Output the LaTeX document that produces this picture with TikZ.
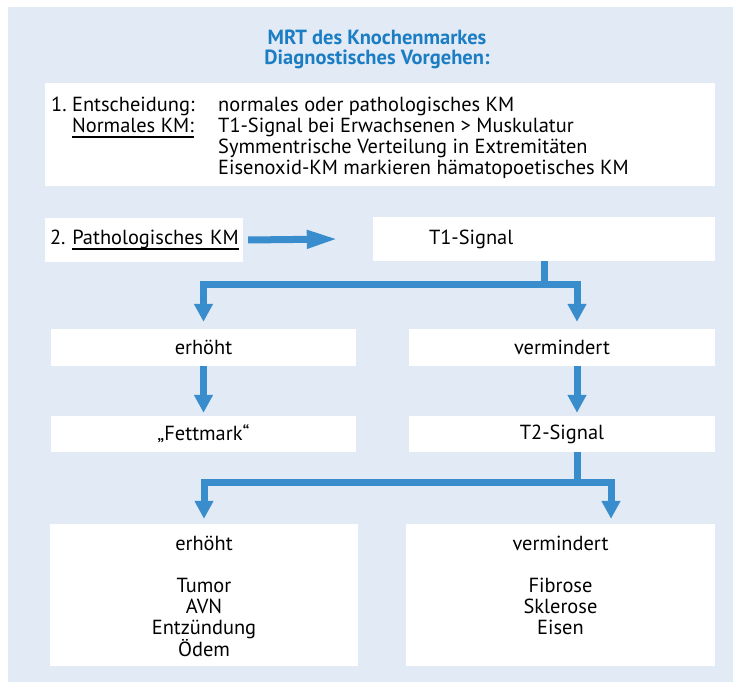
\documentclass[tikz,border=0pt]{standalone}
\usepackage{fontspec}
\setmainfont{PT Sans}
\usetikzlibrary{arrows.meta}
\definecolor{kmback}{HTML}{E2EAF5}
\definecolor{kmblue}{HTML}{3A8DCD}
\definecolor{kmtitle}{HTML}{1B7DC4}
\tikzset{
  kmbox/.style={fill=white, inner sep=0pt, minimum height=37pt},
  kmline/.style={draw=kmblue, line width=7pt},
  kmflow/.style={kmline, -{Triangle[width=18pt,length=18pt]}},
  kmlong/.style={kmline, -{Triangle[width=17pt,length=31pt]}}
}
\newcommand{\kmul}[1]{\setbox0\hbox{#1}\rlap{\rule[-6pt]{\wd0}{1.8pt}}\box0}
\frenchspacing

\begin{document}
\begin{tikzpicture}[x=1pt,y=-1pt,every node/.style={font=\fontsize{20.4}{21}\selectfont}]
  \useasboundingbox (0,0) rectangle (740,682);
  \fill[kmback] (8,7) rectangle (733,682);
  \node[font=\fontsize{20.5}{20}\selectfont\bfseries, text=kmtitle, align=center] (titel) at (377,49) {MRT des Knochenmarkes\\Diagnostisches Vorgehen:};
  \node[kmbox, minimum width=670pt, minimum height=103pt] (entsch) at (380,134.5) {};
  \node[anchor=west, inner sep=0pt] (entschtxt) at (51,138.5) {\begin{tabular}{@{}p{167pt}@{}l@{}}
    1. Entscheidung: & normales oder pathologisches KM\\
    \hphantom{1. }\kmul{Normales KM:} & T1-Signal bei Erwachsenen > Muskulatur\\
    & Symmentrische Verteilung in Extremitäten\\
    & Eisenoxid-KM markieren hämatopoetisches KM
  \end{tabular}};
  \node[kmbox, minimum width=198pt, minimum height=44pt, text width=188pt, inner xsep=5pt, align=left] (patho) at (144,240) {\mbox{2. \kmul{Pathologisches KM}}};
  \node[kmbox, minimum width=342pt, minimum height=44pt, text width=230pt, inner xsep=56pt, align=left] (tone) at (544,239) {T1-Signal};
  \node[kmbox, minimum width=305pt] (erh) at (203.5,347.5) {erhöht};
  \node[kmbox, minimum width=306pt] (verm) at (562,347.5) {vermindert};
  \node[kmbox, minimum width=305pt, minimum height=36pt] (fett) at (203.5,434) {„Fettmark“};
  \node[kmbox, minimum width=306pt, minimum height=36pt] (ttwo) at (562,434) {T2-Signal};
  \node[kmbox, minimum width=308pt, minimum height=142pt, align=center] (erhb) at (204,595) {\rule{0pt}{23pt}erhöht\\\strut\\Tumor\\AVN\\Entzündung\\Ödem\strut};
  \node[kmbox, minimum width=309pt, minimum height=142pt, align=center] (vermb) at (560.5,595) {\rule{0pt}{23pt}vermindert\\\strut\\Fibrose\\Sklerose\\Eisen\\\strut};
  \coordinate (splitone) at (544,285);
  \coordinate (splittwo) at (577,482);
  \draw[kmlong] ([xshift=5pt]patho.east) -- ([xshift=-35pt]tone.west);
  \draw[kmline] (tone.south) -- (splitone);
  \draw[kmflow] (splitone) -| ([yshift=7pt]erh.north);
  \draw[kmflow] (splitone) -| ([xshift=15pt,yshift=7pt]verm.north);
  \draw[kmflow] (erh.south) -- ([yshift=3pt]fett.north);
  \draw[kmflow] ([xshift=15pt]verm.south) -- ([xshift=15pt,yshift=3pt]ttwo.north);
  \draw[kmline] ([xshift=15pt]ttwo.south) -- (splittwo);
  \draw[kmflow] (splittwo) -| ([yshift=5pt]erhb.north);
  \draw[kmflow] (splittwo) -| ([xshift=50.5pt,yshift=5pt]vermb.north);
\end{tikzpicture}
\end{document}
